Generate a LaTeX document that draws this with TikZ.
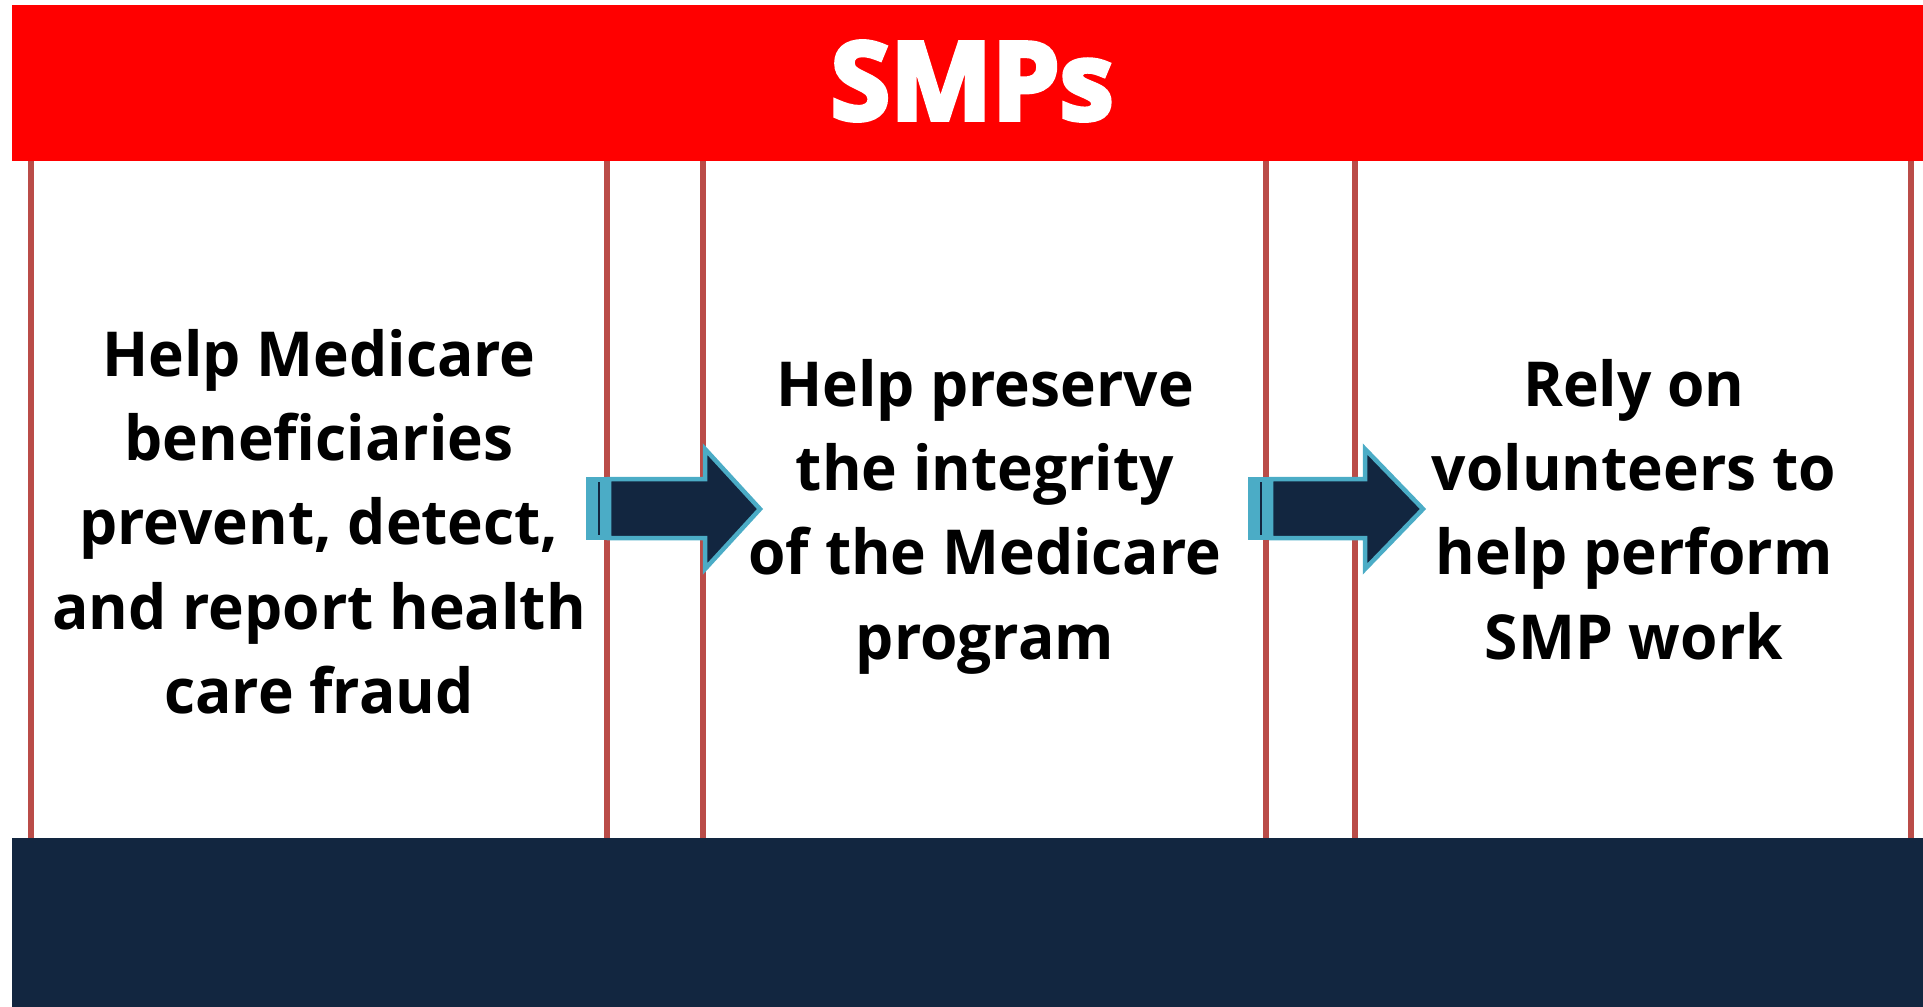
\documentclass[tikz,border=0pt]{standalone}
\usepackage{fontspec}
\setmainfont{Open Sans}[BoldFeatures={FakeStretch=0.975}]
\newfontfamily\headfont{Open Sans}[BoldFeatures={FakeBold=4.2}]
\definecolor{smpred}{HTML}{FF0000}
\definecolor{navy}{RGB}{18,38,64}
\definecolor{lblue}{HTML}{4BACC6}
\definecolor{panelline}{RGB}{186,76,72}
\tikzset{
  panel/.style={draw=panelline, line width=5.5pt},
  banner/.style={fill=#1, draw=none},
  bodytext/.style={align=center, inner sep=0pt, anchor=north,
    font=\fontsize{62}{84.3}\selectfont\bfseries},
  arrowbody/.style={fill=navy, draw=lblue, line width=4.5pt, line join=miter},
  arrowtail/.style={fill=lblue, draw=none},
  arrowstripe/.style={draw=navy, line width=2pt}
}
\begin{document}
\begin{tikzpicture}[x=1pt, y=-1pt]
\useasboundingbox (0,0) rectangle (1923,1007);
% panels
\draw[panel] (31,150) rectangle (607,850);
\draw[panel] (703,150) rectangle (1266,850);
\draw[panel] (1355,150) rectangle (1911,850);
% banners
\fill[banner=smpred] (12,5) rectangle (1923,161);
\fill[banner=navy] (12,838) rectangle (1923,1007);
\node[text=white, inner sep=0pt, font=\headfont\fontsize{108}{112}\selectfont\bfseries] (title) at (972,81) {SMPs};
% texts
\node[bodytext] (t1) at (319,329) {Help Medicare\\beneficiaries\\prevent, detect,\\and report health\\care fraud};
\node[bodytext] (t2) at (985,359) {Help preserve\\the integrity\\of the Medicare\\program};
\node[bodytext] (t3) at (1634,359) {Rely on\\volunteers to\\help perform\\SMP work};
% arrow 1
\fill[arrowtail] (586,477) rectangle (609,540);
\draw[arrowstripe] (599,482) -- (599,535);
\draw[arrowbody] (609,479) -- (705,479) -- (705,449) -- (760,509) -- (705,569) -- (705,538) -- (609,538) -- cycle;
% arrow 2
\fill[arrowtail] (1248,477) rectangle (1271,540);
\draw[arrowstripe] (1261,482) -- (1261,535);
\draw[arrowbody] (1271,479) -- (1365,479) -- (1365,449) -- (1423,509) -- (1365,569) -- (1365,538) -- (1271,538) -- cycle;
\end{tikzpicture}
\end{document}
